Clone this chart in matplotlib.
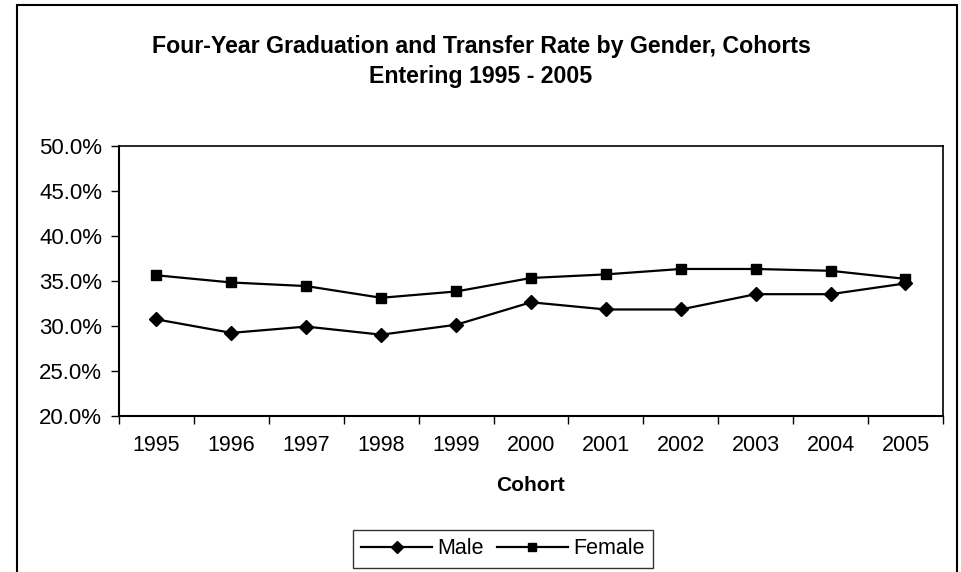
import matplotlib
matplotlib.use('Agg')
import matplotlib.pyplot as plt
from matplotlib.patches import Rectangle
from matplotlib.ticker import FuncFormatter

plt.rcParams['font.family'] = ['Liberation Sans', 'DejaVu Sans']

cohorts = ['1995', '1996', '1997', '1998', '1999', '2000',
           '2001', '2002', '2003', '2004', '2005']
male = [30.7, 29.2, 29.9, 29.0, 30.1, 32.6, 31.8, 31.8, 33.5, 33.5, 34.7]
female = [35.6, 34.8, 34.4, 33.1, 33.8, 35.3, 35.7, 36.3, 36.3, 36.1, 35.2]

fig = plt.figure(figsize=(9.62, 5.72), dpi=100)
ax = fig.add_axes([0.1237, 0.2733, 0.8565, 0.472])

x = list(range(len(cohorts)))
ax.plot(x, male, color='black', lw=1.6, marker='D', markersize=7.5,
        markerfacecolor='black', label='Male')
ax.plot(x, female, color='black', lw=1.6, marker='s', markersize=7.5,
        markerfacecolor='black', label='Female')

ax.set_xlim(-0.5, len(cohorts) - 0.5)
ax.set_ylim(20, 50)
ax.set_yticks([20, 25, 30, 35, 40, 45, 50])
ax.yaxis.set_major_formatter(FuncFormatter(lambda v, p: f'{v:.1f}%'))
ax.set_xticks(x)
ax.set_xticklabels(cohorts)
ax.set_xticks([i - 0.5 for i in x] + [len(cohorts) - 0.5], minor=True)
ax.tick_params(axis='x', which='major', length=0, labelsize=15.5, pad=14)
ax.tick_params(axis='x', which='minor', length=6, width=1, direction='out')
ax.tick_params(axis='y', labelsize=16, length=6, width=1, direction='out', pad=6)
for s in ax.spines.values():
    s.set_color('black')
    s.set_linewidth(1.2)
ax.spines['left'].set_linewidth(1.5)
ax.spines['bottom'].set_linewidth(1.5)

ax.set_xlabel('Cohort', fontsize=15, fontweight='bold', labelpad=14)

fig.text(0.5, 1 - 46 / 572, 'Four-Year Graduation and Transfer Rate by Gender, Cohorts',
         ha='center', va='center', fontsize=16.7, fontweight='bold')
fig.text(0.5, 1 - 77 / 572, 'Entering 1995 - 2005',
         ha='center', va='center', fontsize=16.7, fontweight='bold')

leg = ax.legend(loc='center', bbox_to_anchor=(503 / 962, 1 - 549 / 572),
                bbox_transform=fig.transFigure, ncol=2, fontsize=15.5,
                frameon=True, fancybox=False, handlelength=3.3,
                handletextpad=0.25, columnspacing=0.6, borderpad=0.4,
                markerscale=0.8)
leg.get_frame().set_edgecolor('black')
leg.get_frame().set_linewidth(1.0)

fig.patches.append(Rectangle((17 / 962, -0.1), 940 / 962, 1.1 - 5 / 572,
                             transform=fig.transFigure, fill=False,
                             edgecolor='black', lw=1.5))

fig.savefig('out.png', dpi=100, facecolor='white')
